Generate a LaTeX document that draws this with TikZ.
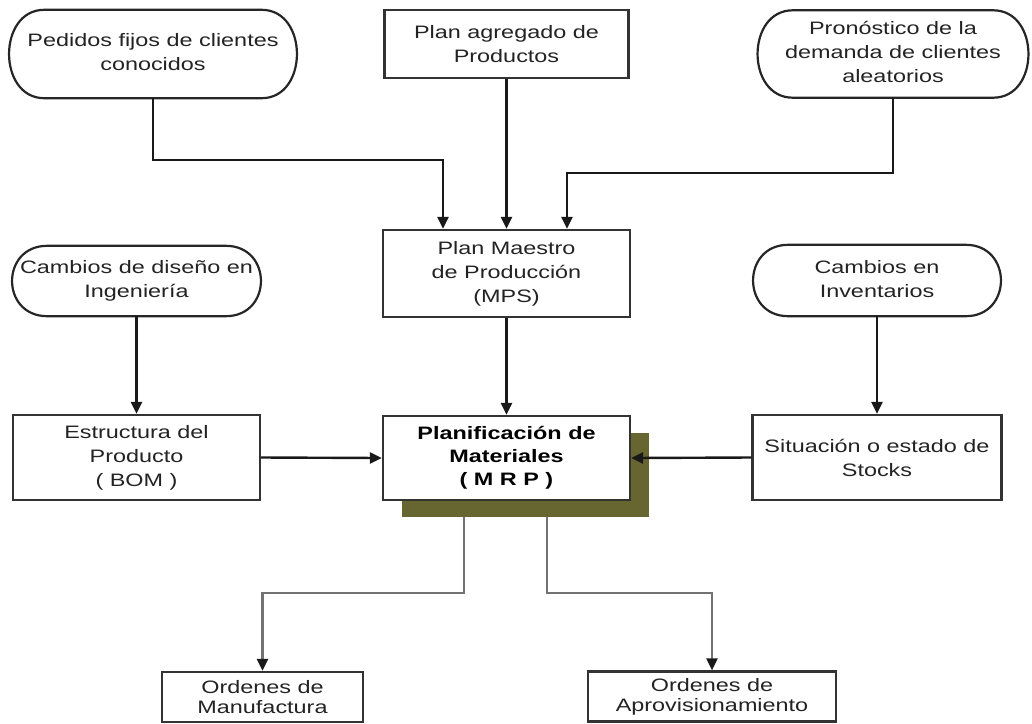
\documentclass[tikz,border=0pt]{standalone}
\usepackage{fontspec}
\setmainfont{Liberation Sans}[FakeStretch=1.3]
\usetikzlibrary{arrows.meta}
\definecolor{shadowolive}{RGB}{104,102,48}
\definecolor{inkgray}{RGB}{35,35,35}
% centred multi-line label that does not widen its node
\newcommand\ctext[1]{\makebox[0pt]{\begin{tabular}{@{}c@{}}#1\end{tabular}}}
% outline of a pill-like input node: straight top and bottom, bulging sides
\newcommand\pillline[2]{%
  \draw[pillborder] (#1.north west) -- (#1.north east)
    .. controls +(#2,0) and +(#2,0) .. (#1.south east) -- (#1.south west)
    .. controls +(-#2,0) and +(-#2,0) .. (#1.north west);}
\begin{document}
\begin{tikzpicture}[x=1pt,y=-1pt,
  txt/.style={font=\fontsize{18}{24}\selectfont, text=inkgray, inner sep=0pt},
  box/.style={txt, draw=black!80, line width=2.2pt, fill=white, align=center},
  smallbox/.style={box, font=\fontsize{18}{20}\selectfont},
  pill/.style={txt},
  pillborder/.style={draw=black!85, line width=2.2pt},
  conn/.style={draw=black!90, line width=2.4pt, -{Triangle[length=12pt,width=11pt]}},
  connout/.style={draw=black!55, line width=2.4pt, -{Triangle[length=12pt,width=11pt,color=black!90]}}]
\useasboundingbox (0,0) rectangle (1032,723);

% inputs to the master schedule
\node[pill, minimum width=217pt, minimum height=88pt] (ped) at (153,54)
  {\ctext{Pedidos fijos de clientes\\conocidos}};
\pillline{ped}{47}
\node[box, minimum width=244pt, minimum height=68pt] (plan) at (506.5,44)
  {Plan agregado de\\Productos};
\node[pill, minimum width=200pt, minimum height=87pt] (pron) at (893,54)
  {\ctext{Pronóstico de la\\demanda de clientes\\aleatorios}};
\pillline{pron}{47}

% master production schedule
\node[box, minimum width=247pt, minimum height=87pt] (mps) at (506.5,273.5)
  {Plan Maestro\\de Producción\\(MPS)};

% change inputs
\node[pill, minimum width=178pt, minimum height=70pt] (cdis) at (136.5,281)
  {\ctext{Cambios de diseño en\\Ingeniería}};
\pillline{cdis}{47}
\node[pill, minimum width=177pt, minimum height=71pt] (cinv) at (877,280.5)
  {\ctext{Cambios en\\Inventarios}};
\pillline{cinv}{47}

% middle row
\node[box, minimum width=247pt, minimum height=85pt] (est) at (136.5,457.5)
  {Estructura del\\Producto\\( BOM )};
\node[box, minimum width=249pt, minimum height=85pt] (sit) at (877,457.5)
  {Situación o estado de\\Stocks};
\node[fill=shadowolive, minimum width=247pt, minimum height=84pt, inner sep=0pt] (mrpsh) at (525.5,475) {};
\node[box, minimum width=247pt, minimum height=84pt, font=\bfseries\fontsize{18}{23}\selectfont, text=black] (mrp) at (506.5,458)
  {Planificación de\\Materiales\\( M R P )};

% outputs
\node[smallbox, minimum width=201pt, minimum height=50pt] (man) at (262.5,697)
  {Ordenes de\\Manufactura};
\node[smallbox, minimum width=248pt, minimum height=50pt] (apr) at (712,696.5)
  {Ordenes de\\Aprovisionamiento};

% connectors
\draw[conn] (ped.south) -- ++(0,62) -| ([xshift=-63.5pt]mps.north);
\draw[conn] (plan.south) -- (mps.north);
\draw[conn] (pron.south) -- ++(0,75) -| ([xshift=60.5pt]mps.north);
\draw[conn] (mps.south) -- (mrp.north);
\draw[conn] (cdis.south) -- (est.north);
\draw[conn] (cinv.south) -- (sit.north);
\draw[conn] (est.east) -- (mrp.west);
\draw[conn] (sit.west) -- (mrp.east);
\draw[connout] ([xshift=-61.5pt]mrpsh.south) -- ++(0,76) -| (man.north);
\draw[connout] ([xshift=21.5pt]mrpsh.south) -- ++(0,76) -| (apr.north);
\end{tikzpicture}
\end{document}
